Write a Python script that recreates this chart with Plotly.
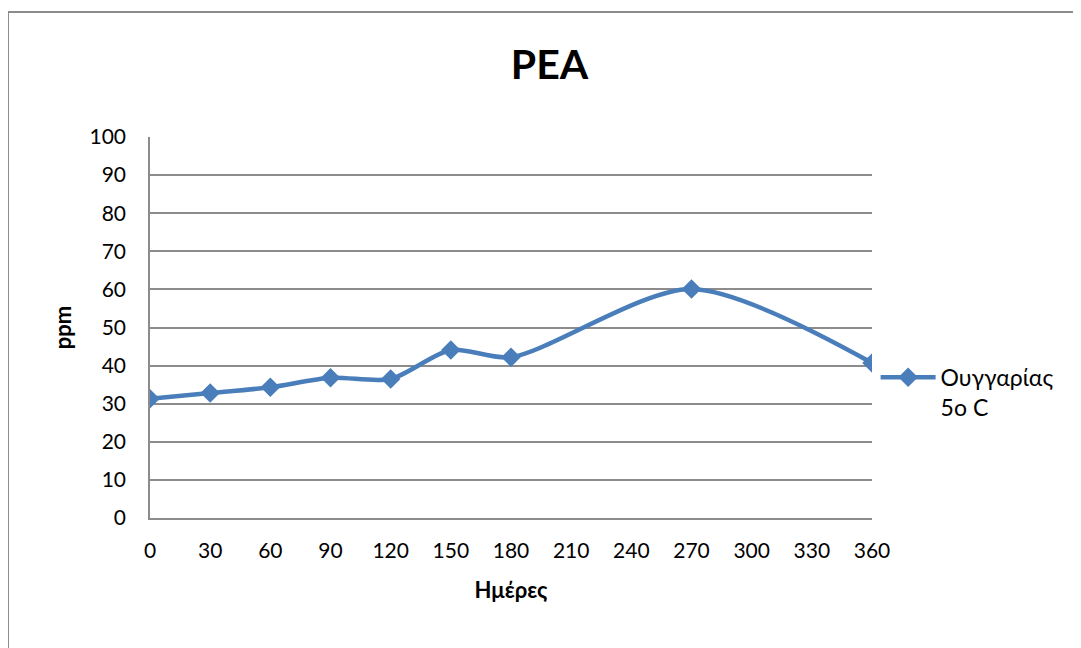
import plotly.graph_objects as go

# dados
dias = [0, 30, 60, 90, 120, 150, 180, 270, 360]
ppm = [31.3, 32.8, 34.3, 36.8, 36.5, 44.1, 42.2, 60.1, 40.7]
x_ticks = list(range(0, 361, 30))
y_ticks = list(range(0, 101, 10))

fonte = "Lato, Carlito, 'Open Sans', sans-serif"
azul = '#4a7ebb'

fig = go.Figure()
fig.add_trace(go.Scatter(
    x=dias, y=ppm,
    mode='lines+markers',
    name='Ουγγαρίας<br>5o C',
    line=dict(color=azul, width=4.5, shape='spline', smoothing=0.8),
    marker=dict(symbol='diamond', size=15, color=azul),
))

# a página tem margem de 8px no body, compensa nas margens
fig.update_layout(
    width=1081, height=648,
    margin=dict(l=142, r=217, t=129, b=138),
    paper_bgcolor='white',
    plot_bgcolor='white',
    font=dict(family=fonte, size=21, color='black'),
    title=dict(text='<b>PEA</b>', x=0.501, xanchor='center', y=0.912, yanchor='middle',
               font=dict(size=41, family=fonte)),
    showlegend=True,
    legend=dict(x=1.005, y=0.33, xanchor='left', yanchor='middle',
                font=dict(size=23, family=fonte), itemwidth=55, valign='top',
                bgcolor='rgba(0,0,0,0)'),
    xaxis=dict(
        range=[0, 360], tickvals=x_ticks, showgrid=False,
        showline=True, linecolor='#8c8c8c', linewidth=1.5,
        ticks='outside', ticklen=13, tickcolor='rgba(0,0,0,0)', zeroline=False,
        title=dict(text='<b>Ημέρες</b>', font=dict(size=22), standoff=22),
    ),
    yaxis=dict(
        range=[0, 100], tickvals=y_ticks, showgrid=True,
        gridcolor='#8c8c8c', gridwidth=1.5,
        showline=True, linecolor='#8c8c8c', linewidth=1.5,
        ticks='outside', ticklen=18, tickcolor='rgba(0,0,0,0)', zeroline=False,
        title=dict(text='<b>ppm</b>', font=dict(size=22), standoff=12),
    ),
)

# moldura externa
fig.add_shape(type='rect', xref='paper', yref='paper',
              x0=-0.1967, y0=-0.4, x1=1.32, y1=1.328,
              line=dict(color='#8c8c8c', width=2), layer='below')

fig.write_html("out.html")
